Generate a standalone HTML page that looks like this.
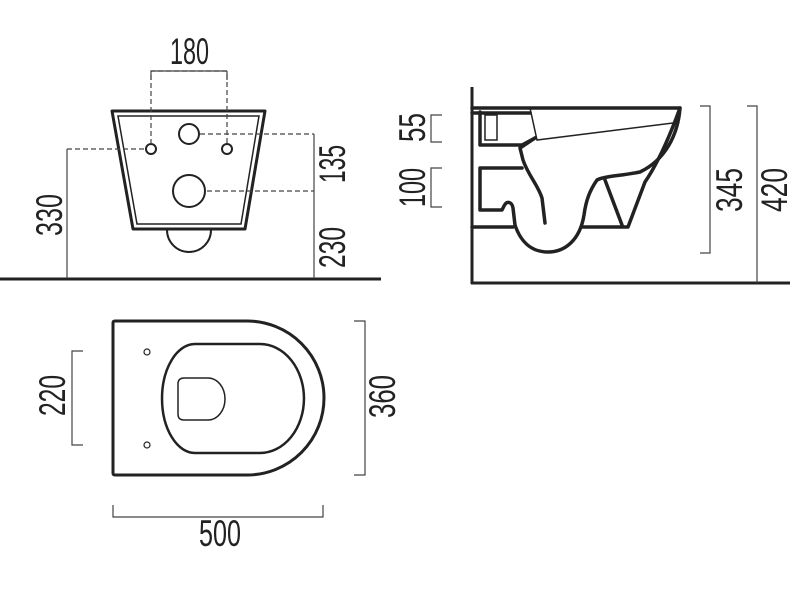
<!DOCTYPE html>
<html><head><meta charset="utf-8"><style>html,body{margin:0;padding:0;background:#fff}svg{display:block}text{font-family:"Liberation Sans",sans-serif;font-size:37px;fill:#222}</style></head>
<body>
<svg width="800" height="600" viewBox="0 0 800 600" xmlns="http://www.w3.org/2000/svg">
<g fill="none" stroke="#222">
<!-- FRONT VIEW -->
<line x1="0" y1="279" x2="381" y2="279" stroke-width="3"/>
<path d="M112,111 L265,111 L245,229 L133,229 Z" stroke-width="3" stroke-linejoin="round"/>
<path d="M118,116 L259,116 L241,224 L137,224 Z" stroke-width="1.5"/>
<path d="M167,230 A22,22 0 0 0 211,230" stroke-width="2"/>
<circle cx="189" cy="134" r="10" stroke-width="2"/>
<circle cx="151" cy="149" r="5" stroke-width="2"/>
<circle cx="227" cy="149" r="5" stroke-width="2"/>
<circle cx="189" cy="191" r="16" stroke-width="2"/>
<g stroke-width="1.2" stroke="#444">
<polyline points="151,144 151,71 227,71 227,144" stroke-dasharray="5,3"/>
<line x1="151" y1="71" x2="227" y2="71"/>
<line x1="151" y1="71" x2="151" y2="80"/><line x1="227" y1="71" x2="227" y2="80"/>
<line x1="67" y1="149" x2="145" y2="149" stroke-dasharray="5,3"/>
<line x1="67" y1="149" x2="67" y2="278"/>
<line x1="200" y1="134" x2="314" y2="134" stroke-dasharray="5,3"/>
<line x1="207" y1="191" x2="314" y2="191" stroke-dasharray="5,3"/>
<line x1="314" y1="134" x2="314" y2="278"/>
</g>
<!-- SIDE VIEW -->
<line x1="472" y1="87" x2="472" y2="284" stroke-width="3"/>
<line x1="471" y1="283" x2="790" y2="283" stroke-width="3"/>
<g stroke-width="3.5" stroke-linejoin="round" stroke-linecap="round">
<path d="M472,108 L680,108 C672,130 660,160 645,182 L628,227 L583,227"/>
<path d="M680,108 C678,135 665,160 640,172 C620,176 605,176 597,180 C590,190 586,200 584,215 C580,240 565,252 548,252 C530,252 520,240 515,225 L513,208 C512,202 507,200 504,206 L502,210 L480,210 L480,168 L522,168"/>
<path d="M472,227 L513,227"/>
<path d="M545,223 L542,198 C538,185 528,175 523,160 L520,148 L535,138"/>
<path d="M480,112 L480,145 L522,145 L535,138"/>
<path d="M605,180 L622,225"/>
<path d="M472,113 L530,113"/>
</g>
<g stroke-width="1.5">
<path d="M530,108 L537,140 L673,123"/>
<rect x="485" y="115" width="12" height="25"/>
</g>
<g stroke-width="1.2" stroke="#444">
<polyline points="442,115 431,115 431,142 442,142"/>
<polyline points="442,168 431,168 431,207 442,207"/>
<polyline points="700,106 710,106 710,253 700,253"/>
<polyline points="747,106 757,106 757,283"/>
</g>
<!-- TOP VIEW -->
<path d="M115,321 L247,321 A77,77 0 0 1 247,475 L115,475 Q113,475 113,473 L113,323 Q113,321 115,321 Z" stroke-width="3"/>
<path d="M195,344 L260,344 A44,54.5 0 0 1 260,453 L195,453 A33,54.5 0 0 1 195,344 Z" stroke-width="2.5"/>
<path d="M184,378 L208,378 A17,21 0 0 1 208,420 L184,420 Q178,420 178,414 L178,384 Q178,378 184,378 Z" stroke-width="1.5"/>
<circle cx="147" cy="352" r="3" stroke-width="1.2"/>
<circle cx="147" cy="445" r="3" stroke-width="1.2"/>
<g stroke-width="1.2" stroke="#444">
<polyline points="83,351 72,351 72,445 83,445"/>
<polyline points="354,321 365,321 365,475 354,475"/>
<polyline points="113,505 113,517 323,517 323,505"/>
</g>
</g>
<g>
<text x="170" y="64" textLength="39" lengthAdjust="spacingAndGlyphs">180</text>
<text transform="translate(62,236) rotate(-90)" textLength="42" lengthAdjust="spacingAndGlyphs">330</text>
<text transform="translate(345,183) rotate(-90)" textLength="38" lengthAdjust="spacingAndGlyphs">135</text>
<text transform="translate(345,268) rotate(-90)" textLength="41" lengthAdjust="spacingAndGlyphs">230</text>
<text transform="translate(425,142) rotate(-90)" textLength="29" lengthAdjust="spacingAndGlyphs">55</text>
<text transform="translate(425,207) rotate(-90)" textLength="39" lengthAdjust="spacingAndGlyphs">100</text>
<text transform="translate(742,212) rotate(-90)" textLength="44" lengthAdjust="spacingAndGlyphs">345</text>
<text transform="translate(787,212) rotate(-90)" textLength="44" lengthAdjust="spacingAndGlyphs">420</text>
<text transform="translate(65,416) rotate(-90)" textLength="41" lengthAdjust="spacingAndGlyphs">220</text>
<text transform="translate(395,418) rotate(-90)" textLength="43" lengthAdjust="spacingAndGlyphs">360</text>
<text x="199" y="546" textLength="42" lengthAdjust="spacingAndGlyphs">500</text>
</g>
</svg>
</body></html>
